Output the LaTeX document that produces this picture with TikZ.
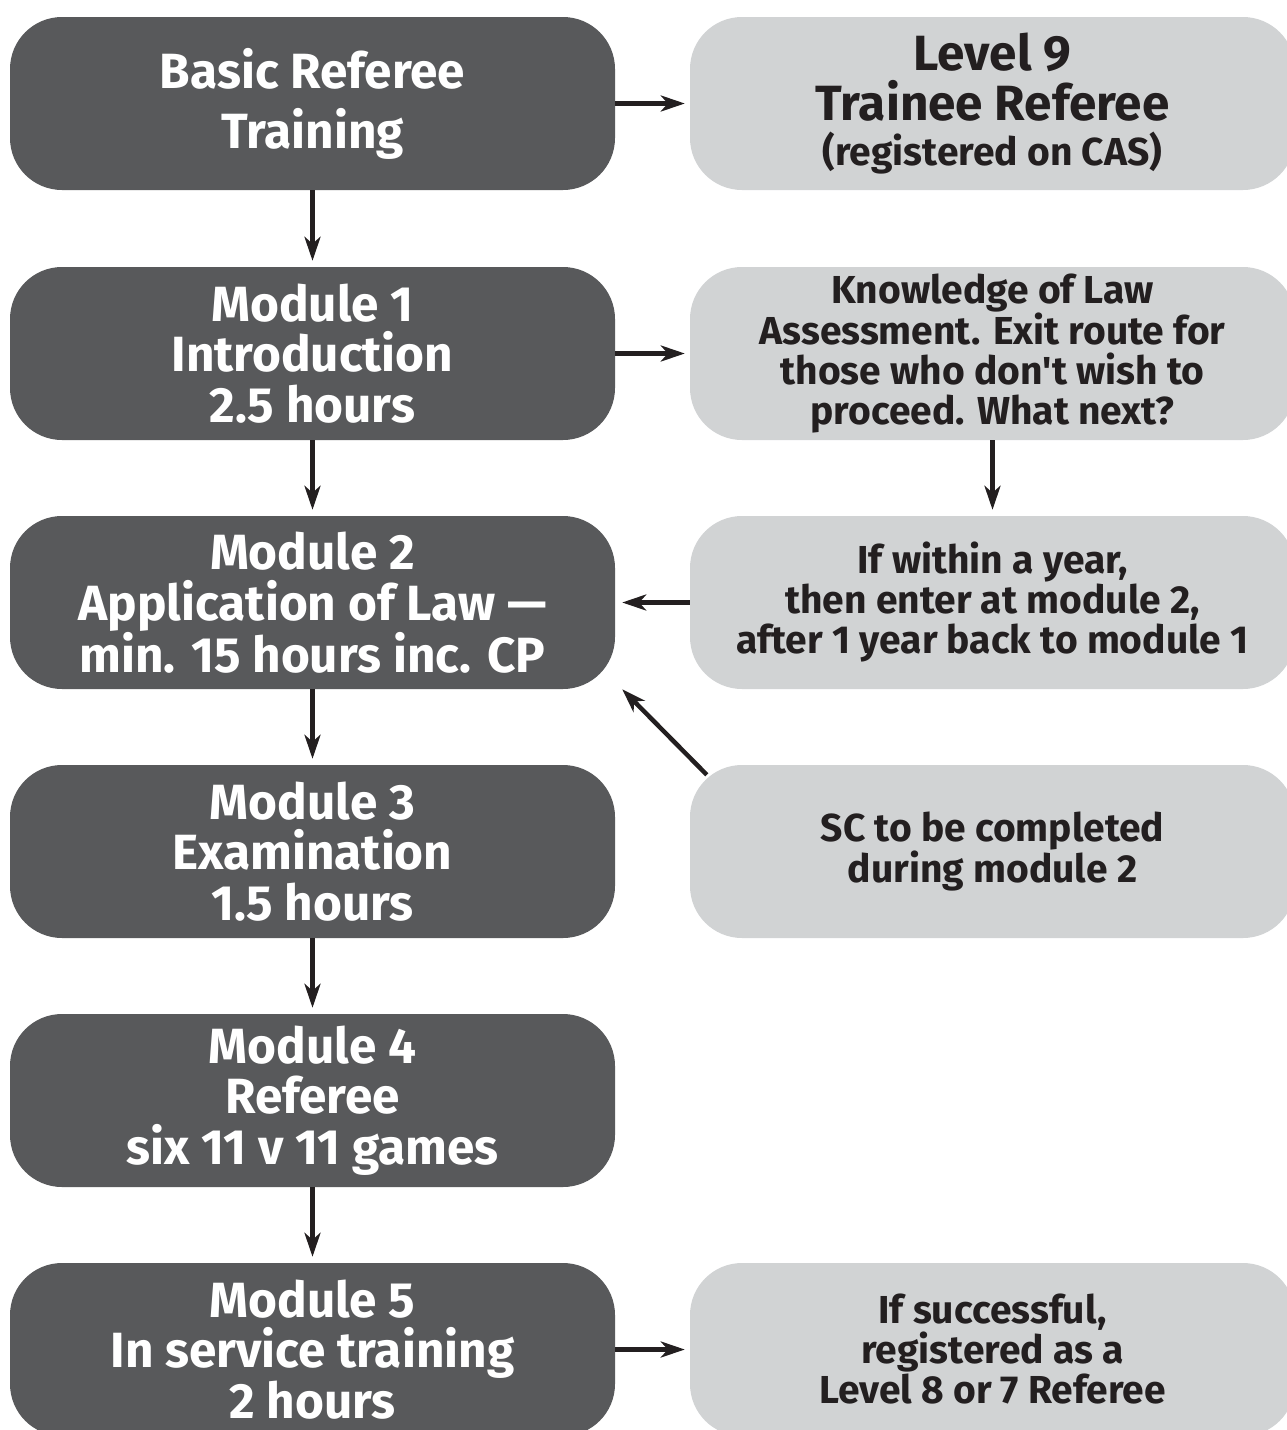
\documentclass[tikz,border=0pt]{standalone}
\usepackage{fontspec}
\setmainfont{Fira Sans}
\usetikzlibrary{arrows.meta,calc}
\definecolor{darkbox}{RGB}{88,89,91}
\definecolor{lightbox}{RGB}{209,211,212}
\definecolor{ink}{RGB}{35,31,32}
\begin{document}
\begin{tikzpicture}[x=1pt,y=-1pt,
  darkstep/.style={rectangle, rounded corners=52pt, fill=darkbox, text=white,
    minimum width=605pt, minimum height=173pt, align=center, inner sep=0pt,
    font=\bfseries\fontsize{49.5}{50.5}\selectfont},
  lightstep/.style={rectangle, rounded corners=52pt, fill=lightbox, text=ink,
    minimum width=605pt, minimum height=173pt, align=center, inner sep=0pt,
    font=\bfseries\fontsize{39}{40}\selectfont},
  conn/.style={draw=ink, line width=4.5pt, -{Stealth[length=24pt,width=16pt,inset=7pt]}}]
\useasboundingbox (0,0) rectangle (1287,1430);
\clip (0,0) rectangle (1287,1430);
% left column
\node[darkstep] (basic) at (312.5,103.5) {Basic Referee\\[9.5pt]Training};
\node[darkstep] (m1) at (312.5,353.5) {Module 1\\Introduction\\2.5 hours};
\node[darkstep] (m2) at (312.5,602.5) {Module 2\\Application of Law —\\min. 15 hours inc. CP};
\node[darkstep] (m3) at (312.5,851.5) {Module 3\\Examination\\1.5 hours};
\node[darkstep] (m4) at (312.5,1100.5) {Module 4\\Referee\\six 11 v 11 games};
\node[darkstep] (m5) at (312.5,1349.5) {Module 5\\In service training\\2 hours};
% right column
\node[lightstep, font=\bfseries\fontsize{49.5}{50}\selectfont] (lvl) at (992.5,103.5)
  {Level 9\\Trainee Referee\\[-5pt]{\fontsize{39}{40}\selectfont (registered on CAS)}};
\node[lightstep] (kol) at (992.5,353.5)
  {Knowledge of Law\\Assessment. Exit route for\\those who don\textquotesingle t wish to\\proceed. What next?};
\node[lightstep] (year) at (992.5,602.5)
  {If within a year,\\then enter at module 2,\\after 1 year back to module 1};
\node[lightstep] (sc) at (992.5,851.5) {SC to be completed\\during module 2};
\node[lightstep] (succ) at (992.5,1349.5) {If successful,\\registered as a\\Level 8 or 7 Referee};
% connectors
\draw[conn, shorten >=6pt] (basic) -- (m1);
\draw[conn, shorten >=6pt] (m1) -- (m2);
\draw[conn, shorten >=6pt] (m2) -- (m3);
\draw[conn, shorten >=6pt] (m3) -- (m4);
\draw[conn, shorten >=6pt] (m4) -- (m5);
\draw[conn, shorten >=5pt] (basic) -- (lvl);
\draw[conn, shorten >=5pt] (m1) -- (kol);
\draw[conn, shorten >=5pt] (m5) -- (succ);
\draw[conn, shorten >=6pt] (kol) -- (year);
\draw[conn, shorten >=7pt] (year) -- (m2);
\draw[conn] ([xshift=17pt,yshift=-10pt]sc.north west) -- ([xshift=7pt]m2.south east);
\end{tikzpicture}
\end{document}
